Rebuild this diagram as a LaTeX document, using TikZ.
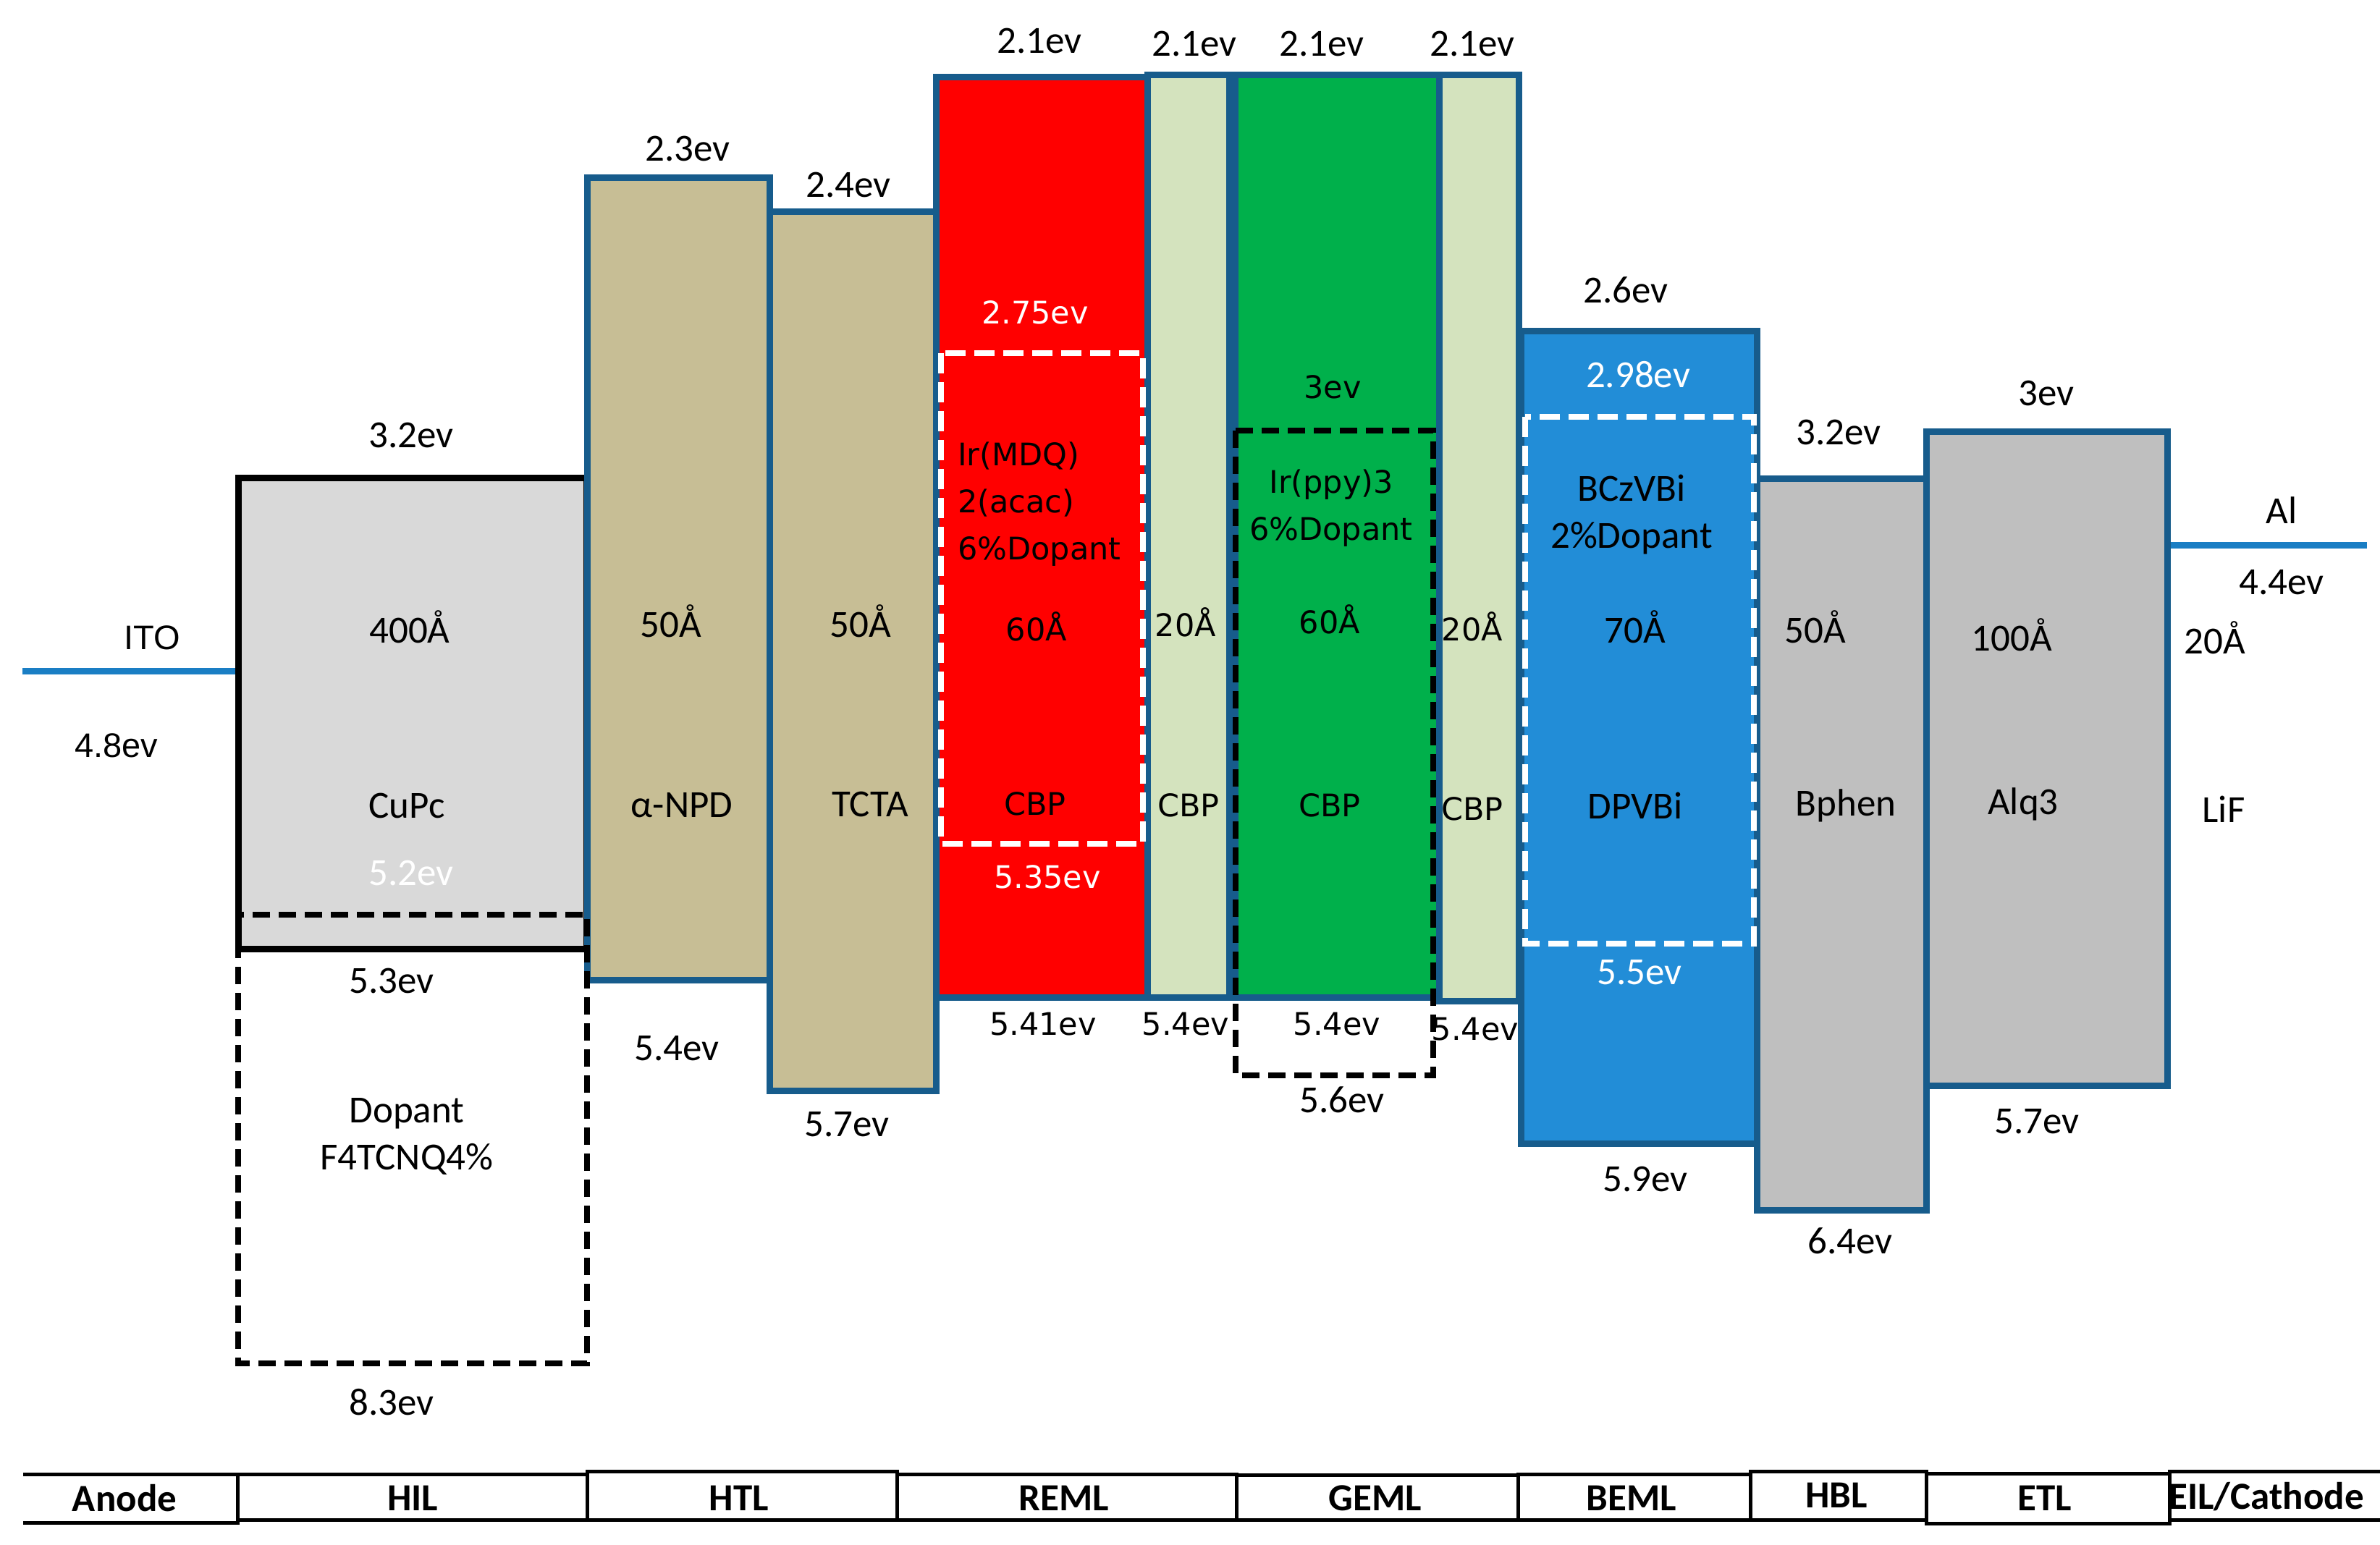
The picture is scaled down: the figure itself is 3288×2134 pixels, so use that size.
\documentclass[tikz,border=0pt]{standalone}
\usepackage{fontspec}
\newfontfamily\calfont{Carlito}
\newfontfamily\dvfont{DejaVu Sans}
\newfontfamily\arfont{Liberation Sans}
\definecolor{bord}{HTML}{175C8C}
\definecolor{itob}{HTML}{1A7EC4}
\definecolor{hilg}{HTML}{D9D9D9}
\definecolor{tanf}{HTML}{C7BE95}
\definecolor{lgrn}{HTML}{D4E3BE}
\definecolor{grnf}{HTML}{00B04B}
\definecolor{bmlf}{HTML}{228DD7}
\definecolor{gryf}{HTML}{BFBFBF}
\tikzset{
  layer/.style={draw=bord, line width=9pt},
  cal/.style={font=\calfont\fontsize{53}{65}\selectfont, inner sep=0pt, text=black},
  dv/.style={font=\dvfont\fontsize{43}{65}\selectfont, inner sep=0pt, text=black},
  ar/.style={font=\arfont\fontsize{47}{60}\selectfont, inner sep=0pt, text=black},
  barlbl/.style={font=\calfont\bfseries\fontsize{53}{60}\selectfont, inner sep=0pt, text=black},
  wdash/.style={draw=white, line width=8pt, dash pattern=on 28pt off 12pt},
  kdash/.style={draw=black, line width=8pt, dash pattern=on 24pt off 12pt},
  barline/.style={draw=black, line width=5pt},
  lead/.style={line width=9pt, draw=itob}
}
\begin{document}
\begin{tikzpicture}[x=1pt,y=-1pt]
\useasboundingbox (0,0) rectangle (3288,2134);
% ITO and Al lines
\coordinate (itoL) at (31,927);
\coordinate (itoR) at (329,927);
\draw[lead] (itoL) -- (itoR);
\coordinate (alL) at (2993,753);
\coordinate (alR) at (3270,753);
\draw[lead] (alL) -- (alR);
% HIL
\path[draw=black, line width=9pt, fill=hilg] (329,660) rectangle (810,1311);
% alpha-NPD
\path[layer, fill=tanf] (811,245) rectangle (1063,1354);
% TCTA
\path[layer, fill=tanf] (1063,292) rectangle (1293,1507);
% REML
\path[layer, fill=red] (1293,106) rectangle (1585,1378);
% CBP 1
\path[layer, fill=lgrn] (1585,103) rectangle (1698,1378);
% GEML
\path[layer, fill=grnf] (1706,103) rectangle (1988,1378);
% CBP 2
\path[layer, fill=lgrn] (1988,103) rectangle (2098,1383);
% BEML
\path[layer, fill=bmlf] (2101,457) rectangle (2427,1580);
% HBL
\path[layer, fill=gryf] (2427,661) rectangle (2661,1672);
% ETL
\path[layer, fill=gryf] (2661,596) rectangle (2994,1500);
% dashed dopant boxes
\path[kdash] (329,1264) rectangle (811,1884);
\path[wdash] (1300,488) rectangle (1579,1166);
\path[wdash] (2107,576) rectangle (2423,1304);

% labels
\node[ar] (ito) at (210,881) {ITO};
\node[ar] (ito4) at (161,1030) {4.8ev};
\node[cal] (hilT) at (568,602) {3.2ev};
\node[cal] (hilA) at (566,866) {400Å};
\node[cal] (hilN) at (562,1113) {CuPc};
\node[cal, text=white] (hilH) at (568,1206) {5.2ev};
\node[cal] (hilB) at (541,1355) {5.3ev};
\node[cal, align=center] (hilD) at (562,1570) {Dopant\\F4TCNQ4\%};
\node[cal] (hilB2) at (541,1938) {8.3ev};

\node[cal] (npdT) at (950,206) {2.3ev};
\node[cal] (npdA) at (927,858) {50Å};
\node[cal] (npdN) at (942,1113) {α-NPD};
\node[cal] (npdB) at (935,1449) {5.4ev};

\node[cal] (tctT) at (1172,256) {2.4ev};
\node[cal] (tctA) at (1189,858) {50Å};
\node[cal] (tctN) at (1202,1111) {TCTA};
\node[cal] (tctB) at (1170,1554) {5.7ev};

\node[cal] (remT) at (1436,57) {2.1ev};
\node[dv, text=white] (remL) at (1430,432) {2.75ev};
\node[dv, align=left, anchor=west] (remD) at (1323,697) {Ir(MDQ)\\2(acac)\\6\%Dopant};
\node[dv] (remA) at (1432,866) {60Å};
\node[dv] (remN) at (1430,1111) {CBP};
\node[dv, text=white] (remH) at (1447,1212) {5.35ev};
\node[dv] (remB) at (1441,1415) {5.41ev};

\node[cal] (cb1T) at (1650,61) {2.1ev};
\node[dv] (cb1A) at (1638,860) {20Å};
\node[dv] (cb1N) at (1642,1113) {CBP};
\node[dv] (cb1B) at (1638,1415) {5.4ev};

\node[cal] (gemT) at (1826,61) {2.1ev};
\node[dv] (gemL) at (1841,535) {3ev};
\node[dv, align=center] (gemD) at (1839,702) {Ir(ppy)3\\6\%Dopant};
\node[dv] (gemA) at (1837,856) {60Å};
\node[dv] (gemN) at (1837,1113) {CBP};
\node[dv] (gemB) at (1847,1415) {5.4ev};
\node[cal] (gemB2) at (1854,1520) {5.6ev};

\node[cal] (cb2T) at (2034,61) {2.1ev};
\node[dv] (cb2A) at (2034,866) {20Å};
\node[dv] (cb2N) at (2034,1118) {CBP};
\node[dv] (cb2B) at (2038,1422) {5.4ev};

\node[cal] (bemT) at (2246,401) {2.6ev};
\node[cal, text=white] (bemL) at (2263,518) {2.98ev};
\node[cal, align=center] (bemD) at (2254,711) {BCzVBi\\2\%Dopant};
\node[cal] (bemA) at (2259,866) {70Å};
\node[cal] (bemN) at (2259,1113) {DPVBi};
\node[cal, text=white] (bemH) at (2265,1344) {5.5ev};
\node[cal] (bemB) at (2273,1629) {5.9ev};

\node[cal] (hblT) at (2540,598) {3.2ev};
\node[cal] (hblA) at (2508,866) {50Å};
\node[cal] (hblN) at (2550,1113) {Bphen};
\node[cal] (hblB) at (2556,1715) {6.4ev};

\node[cal] (etlT) at (2827,543) {3ev};
\node[cal] (etlA) at (2779,877) {100Å};
\node[cal] (etlN) at (2795,1111) {Alq3};
\node[cal] (etlB) at (2814,1550) {5.7ev};

\node[cal] (alN) at (3152,705) {Al};
\node[cal] (alE) at (3152,805) {4.4ev};
\node[cal] (lifA) at (3060,881) {20Å};
\node[cal] (lifN) at (3072,1118) {LiF};

% green dopant dashed box drawn over labels
\path[kdash] (1707,595) rectangle (1980,1486);

% bottom bar
\draw[barline] (32,2037) -- (328,2037) -- (328,2104) -- (32,2104);
\draw[barline] (328,2037) rectangle (811,2100);
\draw[barline] (811,2033) rectangle (1239,2100);
\draw[barline] (1239,2037) rectangle (1708,2100);
\draw[barline] (1708,2038) rectangle (2097,2100);
\draw[barline] (2097,2037) rectangle (2418,2100);
\draw[barline] (2418,2033) rectangle (2661,2100);
\draw[barline] (2661,2036) rectangle (2997,2105);
\draw[barline] (3288,2033) -- (2997,2033) -- (2997,2100) -- (3288,2100);
\node[barlbl] (bAn) at (172,2070) {Anode};
\node[barlbl] (bHI) at (570,2070) {HIL};
\node[barlbl] (bHT) at (1021,2070) {HTL};
\node[barlbl] (bRE) at (1470,2070) {REML};
\node[barlbl] (bGE) at (1900,2070) {GEML};
\node[barlbl] (bBE) at (2254,2070) {BEML};
\node[barlbl] (bHB) at (2537,2066) {HBL};
\node[barlbl] (bET) at (2825,2070) {ETL};
\node[barlbl] (bEI) at (3131,2068) {EIL/Cathode};
\end{tikzpicture}
\end{document}
